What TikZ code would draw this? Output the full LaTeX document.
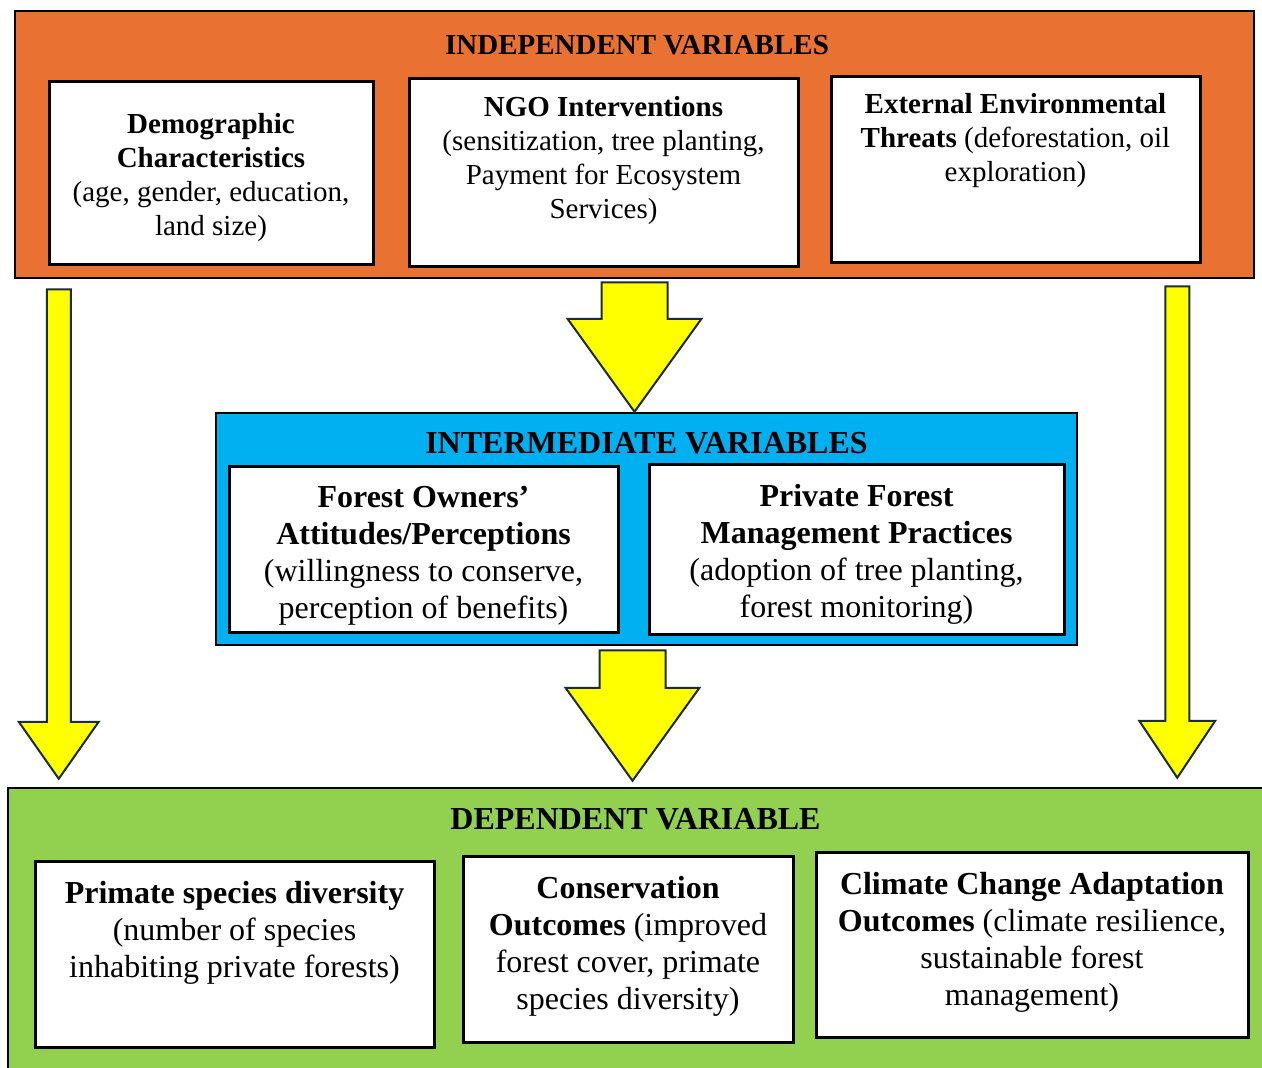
\documentclass[tikz,border=0pt]{standalone}
\usepackage{fontspec}
\setmainfont{Liberation Serif}
\usepackage{tikz}
\usetikzlibrary{calc,%
                positioning}

\definecolor{indepOrange}{HTML}{E97132}
\definecolor{interBlue}{HTML}{00B0F0}
\definecolor{depGreen}{HTML}{92D050}
\definecolor{arrowYellow}{HTML}{FFFF00}
\definecolor{arrowLine}{HTML}{1C2B39}

\newcommand{\topfont}{\fontsize{29}{34}\selectfont}
\newcommand{\lowfont}{\fontsize{32}{37}\selectfont}

\begin{document}
\begin{tikzpicture}[x=1pt,y=-1pt]
		\tikzset{
			Panel/.style = {draw=black,line width=2.5pt,inner sep=0pt},
			VarBox/.style = {draw=black,line width=3pt,fill=white,inner sep=0pt},
			VarText/.style = {align=center,inner sep=0pt,anchor=north},
			Heading/.style = {inner sep=0pt,anchor=base},
			FatArrow/.style args = {#1/#2/#3}{fill=arrowYellow,draw=arrowLine,line width=2pt,line join=miter,
				to path={let \p1=(\tikztostart), \p2=(\tikztotarget) in
					(\x1-#1,\y1) -- (\x1-#1,\y2+#3) -- (\x1-#2,\y2+#3) -- (\x2,\y2)
					-- (\x1+#2,\y2+#3) -- (\x1+#1,\y2+#3) -- (\x1+#1,\y1) -- cycle}}
		}
		\useasboundingbox (0,0) rectangle (1262,1068);
		% panels
		\node[Panel,fill=indepOrange,minimum width=1239pt,minimum height=267pt] (indep) at (634.5,144.5) {};
		\node[Panel,fill=interBlue,minimum width=861pt,minimum height=232pt] (inter) at (646.5,529) {};
		\node[Panel,fill=depGreen,minimum width=1262pt,minimum height=288pt] (dep) at (639,932) {};
		\node[Heading,font=\topfont\bfseries] (indepTitle) at (637,54) {INDEPENDENT VARIABLES};
		\node[Heading,font=\lowfont\bfseries] (interTitle) at (646.5,453) {INTERMEDIATE VARIABLES};
		\node[Heading,font=\lowfont\bfseries] (depTitle) at (635.5,829) {DEPENDENT VARIABLE};
		% independent variables
		\node[VarBox,minimum width=324pt,minimum height=183pt] (demo) at (211,172.5) {};
		\node[VarText,anchor=center,font=\topfont] (demoText) at (211,177.5)
			{\textbf{Demographic}\\\textbf{Characteristics}\\(age, gender, education,\\land size)};
		\node[VarBox,minimum width=389pt,minimum height=188pt] (ngo) at (603.5,172) {};
		\node[VarText,font=\topfont,below=20pt of ngo.north] (ngoText)
			{\textbf{NGO Interventions}\\(sensitization, tree planting,\\Payment for Ecosystem\\Services)};
		\node[VarBox,minimum width=369pt,minimum height=186pt] (threat) at (1015.5,169) {};
		\node[VarText,font=\topfont,below=19pt of threat.north] (threatText)
			{\textbf{External Environmental}\\\textbf{Threats} (deforestation, oil\\exploration)};
		% intermediate variables
		\node[VarBox,minimum width=389pt,minimum height=166pt] (attit) at (423.5,549) {};
		\node[VarText,font=\lowfont,below=22pt of attit.north] (attitText)
			{\textbf{Forest Owners’}\\\textbf{Attitudes/Perceptions}\\(willingness to conserve,\\perception of benefits)};
		\node[VarBox,minimum width=415pt,minimum height=170pt] (pract) at (856.5,549) {};
		\node[VarText,font=\lowfont,below=22pt of pract.north] (practText)
			{\textbf{Private Forest}\\\textbf{Management Practices}\\(adoption of tree planting,\\forest monitoring)};
		% dependent variable
		\node[VarBox,minimum width=399pt,minimum height=186pt] (primate) at (234.5,954) {};
		\node[VarText,font=\lowfont,below=22pt of primate.north] (primateText)
			{\textbf{Primate species diversity}\\(number of species\\inhabiting private forests)};
		\node[VarBox,minimum width=330pt,minimum height=186pt] (conserv) at (628,949) {};
		\node[VarText,font=\lowfont,below=22pt of conserv.north] (conservText)
			{\textbf{Conservation}\\\textbf{Outcomes} (improved\\forest cover, primate\\species diversity)};
		\node[VarBox,minimum width=432pt,minimum height=185pt] (climate) at (1032,944.5) {};
		\node[VarText,font=\lowfont,below=22pt of climate.north] (climateText)
			{\textbf{Climate Change Adaptation}\\\textbf{Outcomes} (climate resilience,\\sustainable forest\\management)};
		% arrows
		\coordinate (leftStart) at ($(indep.south west)+(45,10)$);
		\coordinate (leftTip) at ($(dep.north west)+(52,-8)$);
		\coordinate (rightStart) at ($(indep.south east)+(-78,7)$);
		\coordinate (rightTip) at ($(dep.north east)+(-94,-9)$);
		\coordinate (midStart) at ($(indep.south)+(0,3)$);
		\coordinate (midTip) at (midStart |- inter.north);
		\coordinate (lowStart) at ($(inter.south)+(-14,4)$);
		\coordinate (lowTip) at ($(lowStart |- dep.north)+(0,-6)$);
		\draw[FatArrow=12pt/40pt/57pt] (leftStart) to (leftTip);
		\draw[FatArrow=12pt/38pt/57pt] (rightStart) to (rightTip);
		\draw[FatArrow=33pt/67pt/93pt] (midStart) to (midTip);
		\draw[FatArrow=33pt/67pt/93pt] (lowStart) to (lowTip);
	\end{tikzpicture}
\end{document}
